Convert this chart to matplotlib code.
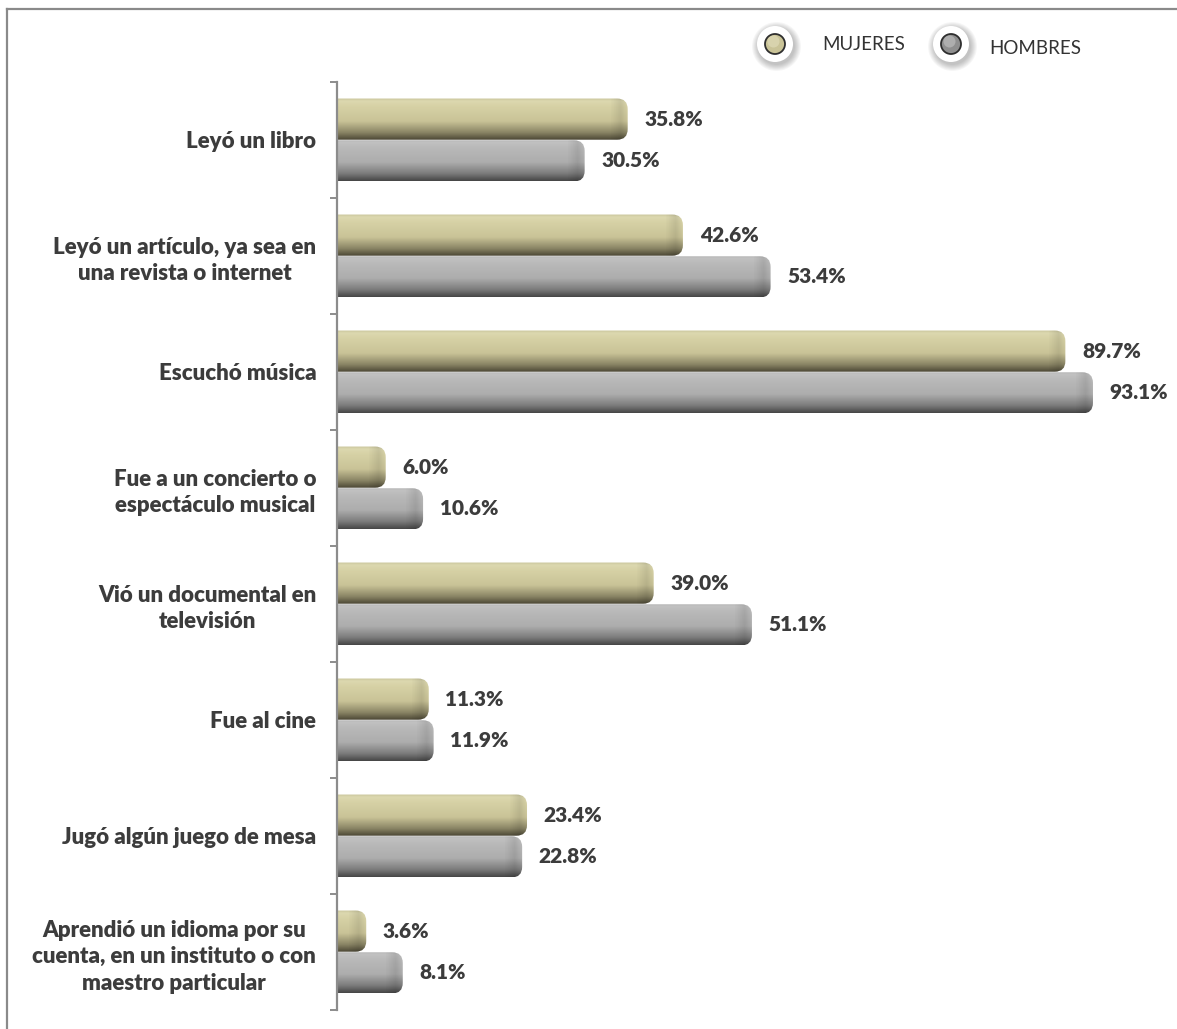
import numpy as np
import matplotlib
matplotlib.use("Agg")
import matplotlib.pyplot as plt
from matplotlib.patches import FancyBboxPatch, Circle
from matplotlib.colors import LinearSegmentedColormap
from matplotlib.lines import Line2D

categories = [
    "Leyó un libro",
    "Leyó un artículo, ya sea en\nuna revista o internet",
    "Escuchó música",
    "Fue a un concierto o\nespectáculo musical",
    "Vió un documental en\ntelevisión",
    "Fue al cine",
    "Jugó algún juego de mesa",
    "Aprendió un idioma por su\ncuenta, en un instituto o con\nmaestro particular",
]
mujeres = [35.8, 42.6, 89.7, 6.0, 39.0, 11.3, 23.4, 3.6]
hombres = [30.5, 53.4, 93.1, 10.6, 51.1, 11.9, 22.8, 8.1]
series_names = ["MUJERES", "HOMBRES"]

W, H = 1177, 1029
fig = plt.figure(figsize=(W / 100, H / 100), dpi=100)
fig.patch.set_facecolor("white")

ax = fig.add_axes([337 / W, 1 - 1010 / H, (1149 - 337) / W, (1010 - 82) / H])
n = len(categories)
pos = np.arange(n)[::-1].astype(float)
off = 0.18
bh = 0.355

ax.set_xlim(0, 100)
ax.set_ylim(-0.5, n - 0.5)

cmap_m = LinearSegmentedColormap.from_list(
    "muj", [(0.0, "#4a4634"), (0.18, "#8a8565"), (0.45, "#c9c397"),
            (0.8, "#d6d1a5"), (0.93, "#dcd8b0"), (1.0, "#c8c39a")])
cmap_h = LinearSegmentedColormap.from_list(
    "hom", [(0.0, "#454545"), (0.18, "#7c7c7c"), (0.45, "#adadad"),
            (0.8, "#b9b9b9"), (0.93, "#c2c2c2"), (1.0, "#aaaaaa")])

bars_m = ax.barh(pos + off, mujeres, height=bh, visible=False)
bars_h = ax.barh(pos - off, hombres, height=bh, visible=False)

grad = np.linspace(0, 1, 256).reshape(-1, 1)
r_x = 1.3          # corner radius in x units
aspect = 0.07      # y units per x unit for the corner radius


def shade_bar(rect, cmap):
    x0, y0 = rect.get_x(), rect.get_y()
    w, h = rect.get_width(), rect.get_height()
    patch = FancyBboxPatch((x0 - 3, y0), w + 3, h,
                           boxstyle=f"round,pad=0,rounding_size={r_x}",
                           mutation_aspect=aspect, facecolor="none",
                           edgecolor="none")
    ax.add_patch(patch)
    im = ax.imshow(grad, cmap=cmap, aspect="auto", origin="lower",
                   extent=(x0 - 3, x0 + w, y0, y0 + h), zorder=2,
                   interpolation="bilinear")
    im.set_clip_path(patch)
    # subtle darker band near the rounded end
    end = ax.imshow(np.linspace(0, 1, 64).reshape(1, -1),
                    cmap=LinearSegmentedColormap.from_list(
                        "e", [(0, (0, 0, 0, 0)), (0.6, (0, 0, 0, 0.10)),
                              (1, (0, 0, 0, 0.0))]),
                    aspect="auto", extent=(x0 + w - 2.2, x0 + w, y0, y0 + h),
                    zorder=3, interpolation="bilinear")
    end.set_clip_path(patch)


for b in bars_m:
    shade_bar(b, cmap_m)
for b in bars_h:
    shade_bar(b, cmap_h)

ax.set_xlim(0, 100)
ax.set_ylim(-0.5, n - 0.5)

label_font = dict(family="Lato", weight="heavy", size=15, color="#3c3c3c")
for bars, vals in ((bars_m, mujeres), (bars_h, hombres)):
    for b, v in zip(bars, vals):
        ax.annotate(f"{v:.1f}%",
                    (b.get_width(), b.get_y() + b.get_height() / 2),
                    xytext=(12, 0), textcoords="offset points", va="center",
                    ha="left", **label_font)

# axis styling
for s in ["top", "right", "bottom"]:
    ax.spines[s].set_visible(False)
ax.spines["left"].set_color("#8c8c8c")
ax.spines["left"].set_linewidth(1.6)
ax.set_xticks([])
ax.set_yticks(pos)
ax.set_yticklabels(categories, ha="right", multialignment="center",
                   family="Lato", weight="heavy", fontsize=16,
                   color="#3c3c3c", linespacing=1.32)
ax.tick_params(axis="y", which="major", length=0, pad=15)
ax.set_yticks(np.arange(-0.5, n, 1.0), minor=True)
ax.tick_params(axis="y", which="minor", length=5, width=1.4,
               color="#8c8c8c", direction="out")
ax.set_facecolor("none")

# overlay in pixel coordinates for the legend and frame
ov = fig.add_axes([0, 0, 1, 1], zorder=10)
ov.set_xlim(0, W)
ov.set_ylim(H, 0)
ov.axis("off")
ov.patch.set_alpha(0)

ov.add_line(Line2D([7, W], [9, 9], color="#8a8a8a", lw=1.6))
ov.add_line(Line2D([7, 7], [9, H], color="#8a8a8a", lw=1.6))

legend_items = [
    (775, 44, "#c9c397", "#e6e2c0", series_names[0], 822, 45),
    (951, 44, "#8f8f8f", "#c8c8c8", series_names[1], 989, 48),
]
for cx, cy, col, hi, name, tx, ty in legend_items:
    for k in range(7, 0, -1):
        ov.add_patch(Circle((cx + 1.5, cy + 2.5), 17.5 + k * 1.0,
                            color="black", alpha=0.035, lw=0))
    ov.add_patch(Circle((cx, cy), 18, color="white", lw=0))
    ov.add_patch(Circle((cx, cy), 10, facecolor=col, edgecolor="#2e2e2e",
                        lw=1.3))
    ov.add_patch(Circle((cx - 1.5, cy - 2.5), 6, color=hi, alpha=0.55, lw=0))
    ov.text(tx, ty, name, ha="left", va="center", fontsize=13.5,
            family="Lato", color="#333333")

fig.savefig("out.png", dpi=100, facecolor="white")
